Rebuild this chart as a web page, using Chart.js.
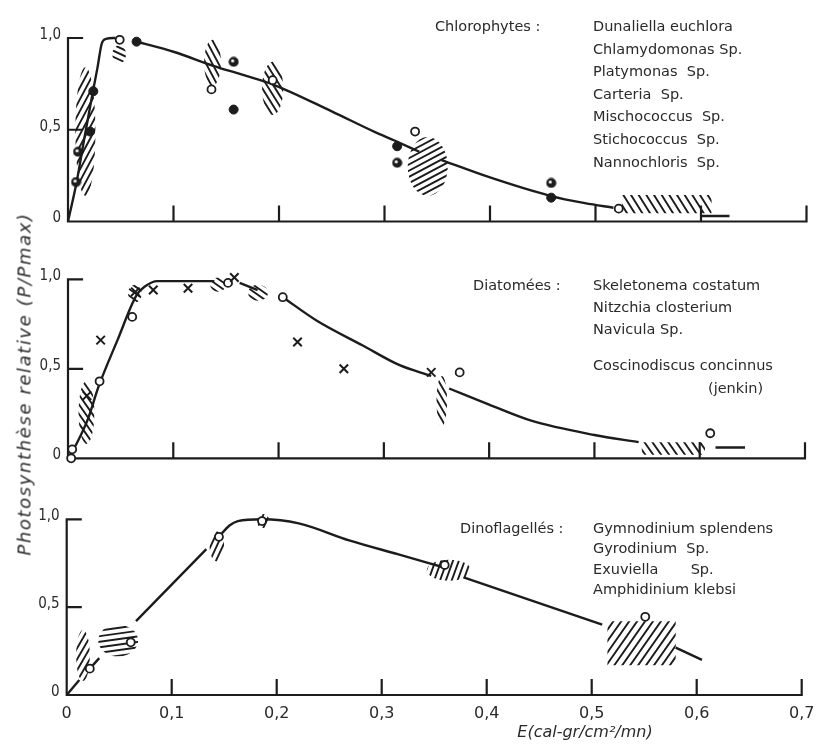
<!DOCTYPE html>
<html>
<head>
<meta charset="utf-8">
<script src="https://cdn.jsdelivr.net/npm/chart.js@4/dist/chart.umd.min.js"></script>
<style>
body{margin:0;background:#fff;}
#wrap{position:relative;width:816px;height:751px;overflow:hidden;}
#wrap canvas{position:absolute;left:0;}
#chloro{top:0;}
#diato{top:240px;}
#dino{top:480px;}
#ytitle{position:absolute;left:24px;top:384px;transform:translate(-50%,-50%) rotate(-90deg);
  white-space:nowrap;font:italic 18px "DejaVu Sans",sans-serif;letter-spacing:1.6px;color:#2a2a2a;}
</style>
</head>
<body>
<div id="wrap">
<canvas id="chloro" width="816" height="240"></canvas>
<canvas id="diato" width="816" height="240"></canvas>
<canvas id="dino" width="816" height="271"></canvas>
<div id="ytitle">Photosynthèse relative (P/Pmax)</div>
</div>
<script>
// axes
const xTicks = [0, 0.1, 0.2, 0.3, 0.4, 0.5, 0.6, 0.7];
const xTickLabels = ["0", "0,1", "0,2", "0,3", "0,4", "0,5", "0,6", "0,7"];
const yTicks = [0, 0.5, 1];
const yTickLabels = ["0", "0,5", "1,0"];

// Chlorophytes  ([E, P/Pmax], null y = break in the curve)
const chloroCurve = [[0,0],[0.008,0.21],[0.016,0.47],[0.024,0.72],[0.028,0.84],[0.032,0.97],[0.036,0.995],[0.045,1.0],[0.055,null],
  [0.065,0.98],[0.1,0.925],[0.137,0.85],[0.165,0.8],[0.195,0.745],[0.25,0.6],[0.29,0.49],[0.31,0.44],[0.333,0.38],[0.345,null],
  [0.354,0.335],[0.4,0.24],[0.457,0.14],[0.49,0.1],[0.517,0.075],[0.56,null],[0.6,0.03],[0.627,0.03]];
const chloroOpen = [[0.049,0.99],[0.136,0.72],[0.194,0.77],[0.329,0.49],[0.522,0.07]];
const chloroFilled = [[0.021,0.49],[0.024,0.71],[0.065,0.98],[0.157,0.61],[0.312,0.41],[0.458,0.13]];
const chloroHalf = [[0.0076,0.215],[0.0095,0.38],[0.157,0.87],[0.312,0.32],[0.458,0.21]];
const chloroHatch = [[0.007,0.026,0.14,0.84],[0.042,0.055,0.86,0.96],[0.129,0.145,0.74,0.99],[0.184,0.204,0.58,0.87],[0.322,0.36,0.14,0.46],[0.525,0.61,0.045,0.145]];
const chloroNames = ["Dunaliella euchlora", "Chlamydomonas Sp.", "Platymonas  Sp.", "Carteria  Sp.", "Mischococcus  Sp.", "Stichococcus  Sp.", "Nannochloris  Sp."];

// Diatomées
const diatoCurve = [[0,0],[0.008,0.08],[0.019,0.22],[0.029,0.4],[0.047,0.66],[0.065,0.91],[0.073,0.96],[0.085,0.99],[0.139,0.99],[0.15,null],
  [0.163,0.98],[0.18,0.94],[0.19,null],[0.204,0.9],[0.236,0.77],[0.28,0.63],[0.315,0.52],[0.345,0.46],[0.353,null],
  [0.362,0.39],[0.4,0.3],[0.44,0.21],[0.5,0.13],[0.542,0.09],[0.58,null],[0.615,0.06],[0.643,0.06]];
const diatoCross = [[0.018,0.35],[0.031,0.66],[0.064,0.93],[0.081,0.94],[0.114,0.95],[0.158,1.01],[0.218,0.65],[0.262,0.5],[0.345,0.48]];
const diatoOpen = [[0.003,0.0],[0.004,0.05],[0.03,0.43],[0.061,0.79],[0.152,0.98],[0.204,0.9],[0.372,0.48],[0.61,0.14]];
const diatoHatch = [[0.01,0.025,0.08,0.43],[0.057,0.07,0.87,0.97],[0.135,0.15,0.93,1.01],[0.171,0.19,0.88,0.97],[0.35,0.36,0.18,0.46],[0.545,0.605,0.02,0.09]];
const diatoNames = ["Skeletonema costatum", "Nitzchia closterium", "Navicula Sp."];

// Dinoflagellés
const dinoCurve = [[0,0],[0.012,0.085],[0.017,null],[0.022,0.15],[0.031,0.21],[0.05,null],[0.066,0.42],[0.133,0.83],[0.139,null],
  [0.145,0.9],[0.155,0.965],[0.163,0.99],[0.186,1.0],[0.221,0.977],[0.269,0.88],[0.316,0.8],[0.357,0.73],[0.367,null],
  [0.378,0.67],[0.51,0.4],[0.545,null],[0.58,0.27],[0.605,0.2]];
const dinoOpen = [[0.022,0.15],[0.061,0.3],[0.145,0.9],[0.186,0.99],[0.36,0.74],[0.551,0.445]];
const dinoHatch = [[0.009,0.022,0.08,0.37],[0.03,0.068,0.22,0.4],[0.136,0.15,0.76,0.93],[0.181,0.193,0.95,1.03],[0.343,0.385,0.65,0.77],[0.515,0.58,0.17,0.42]];
const dinoNames = ["Gymnodinium splendens", "Gyrodinium  Sp.", "Exuviella       Sp.", "Amphidinium klebsi"];

const INK = "#1c1c1c";
const pts = a => a.map(p => ({x: p[0], y: p[1]}));

// circle with a small white spot, for the half-filled points
const halfDot = (() => {
  const c = document.createElement("canvas");
  c.width = 11; c.height = 11;
  const g = c.getContext("2d");
  g.fillStyle = INK;
  g.beginPath(); g.arc(5.5, 5.5, 5, 0, Math.PI * 2); g.fill();
  g.fillStyle = "#fff";
  g.beginPath(); g.arc(4.5, 4.5, 1.6, 0, Math.PI * 2); g.fill();
  return c;
})();

function curveSet(data) {
  return {type: "line", data: pts(data), borderColor: INK, borderWidth: 2.4, pointRadius: 0,
    cubicInterpolationMode: "monotone", spanGaps: false, clip: false, order: 2};
}
function markSet(data, style) {
  const base = {type: "scatter", data: pts(data), clip: false, order: 1, pointHoverRadius: 0};
  if (style === "open") return {...base, pointStyle: "circle", pointRadius: 4, borderWidth: 1.8, borderColor: INK, backgroundColor: "#fff"};
  if (style === "filled") return {...base, pointStyle: "circle", pointRadius: 4.5, borderWidth: 1, borderColor: INK, backgroundColor: INK};
  if (style === "half") return {...base, pointStyle: halfDot};
  return {...base, pointStyle: "crossRot", pointRadius: 6, borderWidth: 2, borderColor: INK};
}

// hatched uncertainty zones, axes and lettering
function decor(cfg) {
  return {
    id: "decor",
    beforeDatasetsDraw(chart) {
      const ctx = chart.ctx, xs = chart.scales.x, ys = chart.scales.y;
      ctx.save();
      ctx.strokeStyle = INK;
      cfg.hatch.forEach((h, i) => {
        const L = xs.getPixelForValue(h[0]), R = xs.getPixelForValue(h[1]);
        const T = ys.getPixelForValue(h[3]), B = ys.getPixelForValue(h[2]);
        const W = R - L, H = B - T;
        const wide = W > 50;
        ctx.save();
        ctx.beginPath();
        if (wide) ctx.rect(L, T, W, H);
        else ctx.ellipse(L + W / 2, T + H / 2, W / 2, H / 2, 0, 0, Math.PI * 2);
        ctx.clip();
        const a = cfg.hatchAngle[i] * Math.PI / 180;
        const dx = Math.cos(a), dy = -Math.sin(a);
        const nx = -dy, ny = dx;
        const cx = L + W / 2, cy = T + H / 2, span = Math.hypot(W, H);
        const gap = wide ? 6.5 : 5.5;
        ctx.lineWidth = 1.9;
        ctx.beginPath();
        for (let k = -span; k <= span; k += gap) {
          const ox = cx + nx * k, oy = cy + ny * k;
          ctx.moveTo(ox - dx * span, oy - dy * span);
          ctx.lineTo(ox + dx * span, oy + dy * span);
        }
        ctx.stroke();
        ctx.restore();
      });

      // axes
      const x0 = xs.getPixelForValue(0), y0 = ys.getPixelForValue(0);
      ctx.lineWidth = 2.2;
      ctx.lineCap = "square";
      ctx.beginPath();
      ctx.moveTo(x0, ys.getPixelForValue(1));
      ctx.lineTo(x0, y0);
      ctx.lineTo(xs.getPixelForValue(0.7), y0);
      xTicks.slice(1).forEach(t => {
        const px = xs.getPixelForValue(t);
        ctx.moveTo(px, y0); ctx.lineTo(px, y0 - 15);
      });
      yTicks.slice(1).forEach(t => {
        const py = ys.getPixelForValue(t);
        ctx.moveTo(x0, py); ctx.lineTo(x0 + 14, py);
      });
      ctx.stroke();

      ctx.fillStyle = "#2a2a2a";
      ctx.font = "15px 'DejaVu Sans', sans-serif";
      ctx.fontStretch = "condensed";
      ctx.textAlign = "right";
      ctx.textBaseline = "middle";
      yTicks.forEach((t, i) => ctx.fillText(yTickLabels[i], x0 - 7, ys.getPixelForValue(t) - 3));
      if (cfg.xLabels) {
        ctx.font = "16px 'DejaVu Sans', sans-serif";
        ctx.textAlign = "center";
        ctx.textBaseline = "alphabetic";
        xTicks.forEach((t, i) => ctx.fillText(xTickLabels[i], xs.getPixelForValue(t), y0 + 23));
        ctx.font = "italic 16px 'DejaVu Sans', sans-serif";
        ctx.fillText("E(cal-gr/cm²/mn)", 585, y0 + 42);
      }

      // group and species names
      ctx.font = "14.5px 'DejaVu Sans', sans-serif";
      ctx.fontStretch = "normal";
      ctx.textAlign = "left";
      ctx.textBaseline = "alphabetic";
      ctx.fillText(cfg.group, cfg.groupX, cfg.top);
      cfg.names.forEach((n, i) => ctx.fillText(n, 593, cfg.top + i * cfg.step));
      (cfg.extra || []).forEach(e => ctx.fillText(e[0], e[1], e[2]));
      ctx.restore();
    }
  };
}

function panel(id, datasets, pad, cfg) {
  return new Chart(document.getElementById(id), {
    type: "scatter",
    data: {datasets},
    options: {
      responsive: false,
      animation: false,
      devicePixelRatio: 1,
      layout: {padding: pad},
      scales: {
        x: {type: "linear", min: 0, max: 0.7, display: false},
        y: {type: "linear", min: 0, max: 1, display: false}
      },
      plugins: {legend: {display: false}, tooltip: {enabled: false}}
    },
    plugins: [decor(cfg)]
  });
}

panel("chloro",
  [curveSet(chloroCurve), markSet(chloroOpen, "open"), markSet(chloroFilled, "filled"), markSet(chloroHalf, "half")],
  {left: 68, right: 9.5, top: 38, bottom: 18.5},
  {hatch: chloroHatch, hatchAngle: [62, -25, -62, -58, 28, -58], group: "Chlorophytes :", groupX: 435,
   names: chloroNames, top: 31, step: 22.6});

panel("diato",
  [curveSet(diatoCurve), markSet(diatoCross, "cross"), markSet(diatoOpen, "open")],
  {left: 68, right: 11, top: 39.3, bottom: 21.7},
  {hatch: diatoHatch, hatchAngle: [-55, -35, -35, -35, -60, -55], group: "Diatomées :", groupX: 473,
   names: diatoNames, top: 50, step: 22,
   extra: [["Coscinodiscus concinnus", 593, 130], ["(jenkin)", 708, 153]]});

panel("dino",
  [curveSet(dinoCurve), markSet(dinoOpen, "open")],
  {left: 66.7, right: 14.3, top: 39.3, bottom: 56},
  {hatch: dinoHatch, hatchAngle: [60, 8, 65, 65, 70, 55], group: "Dinoflagellés :", groupX: 460,
   names: dinoNames, top: 53, step: 20.3, xLabels: true});
</script>
</body>
</html>
